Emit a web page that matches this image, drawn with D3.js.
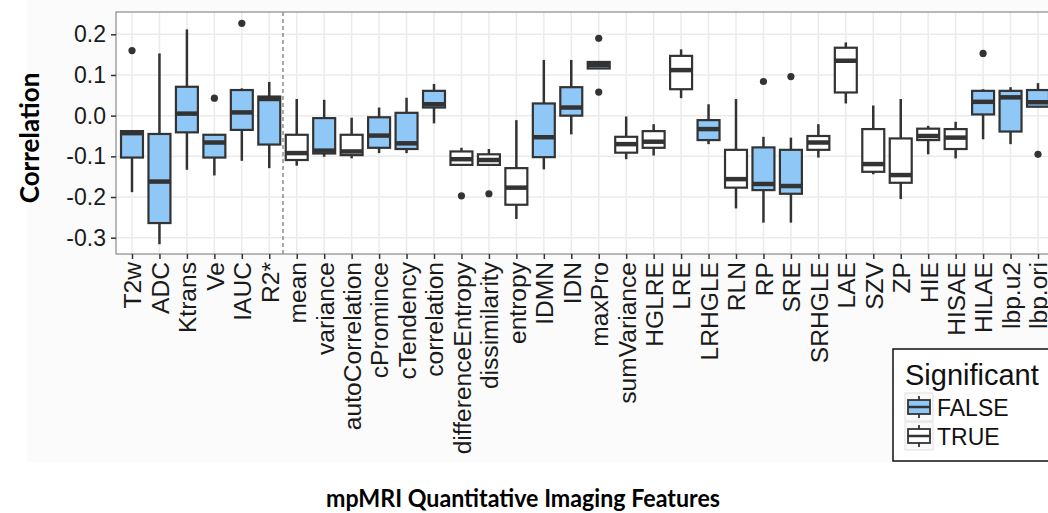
<!DOCTYPE html>
<html>
<head>
<meta charset="utf-8">
<script src="https://cdn.jsdelivr.net/npm/d3@7"></script>
<style>
  body { margin: 0; background: #fff; }
  svg { display: block; }
</style>
</head>
<body>
<div id="chart"></div>
<script>
// Feature names along the x axis
const categories = ['T2w', 'ADC', 'Ktrans', 'Ve', 'IAUC', 'R2*', 'mean', 'variance', 'autoCorrelation',
    'cPromince', 'cTendency', 'correlation', 'differenceEntropy', 'dissimilarity', 'entropy', 'IDMN',
    'IDN', 'maxPro', 'sumVariance', 'HGLRE', 'LRE', 'LRHGLE', 'RLN', 'RP', 'SRE', 'SRHGLE', 'LAE',
    'SZV', 'ZP', 'HIE', 'HISAE', 'HILAE', 'lbp.u2', 'lbp.ori'];

// Box statistics per feature (same order as categories)
const whiskerLow = [-0.188, -0.316, -0.133, -0.147, -0.111, -0.129, -0.123, -0.101, -0.105, -0.092,
    -0.092, -0.019, -0.121, -0.121, -0.254, -0.132, -0.046, 0.116, -0.107, -0.098, 0.043, -0.070,
    -0.228, -0.263, -0.263, -0.103, 0.030, -0.144, -0.205, -0.095, -0.105, -0.058, -0.070, 0.022];
const q1 = [-0.103, -0.264, -0.041, -0.103, -0.035, -0.071, -0.109, -0.093, -0.097, -0.079,
    -0.082, 0.020, -0.121, -0.121, -0.219, -0.102, 0.000, 0.116, -0.091, -0.079, 0.065, -0.060,
    -0.177, -0.183, -0.192, -0.084, 0.057, -0.138, -0.165, -0.060, -0.082, 0.003, -0.039, 0.022];
const median = [-0.043, -0.162, 0.005, -0.066, 0.008, 0.041, -0.092, -0.086, -0.088, -0.049,
    -0.068, 0.028, -0.107, -0.109, -0.177, -0.053, 0.020, 0.125, -0.070, -0.064, 0.112, -0.033,
    -0.156, -0.168, -0.173, -0.066, 0.135, -0.119, -0.146, -0.050, -0.054, 0.034, 0.045, 0.033];
const q3 = [-0.038, -0.045, 0.071, -0.047, 0.063, 0.047, -0.047, -0.006, -0.047, -0.004,
    0.007, 0.061, -0.088, -0.095, -0.129, 0.030, 0.070, 0.132, -0.052, -0.038, 0.147, -0.011,
    -0.084, -0.078, -0.084, -0.050, 0.167, -0.033, -0.056, -0.032, -0.033, 0.061, 0.061, 0.063];
const whiskerHigh = [-0.038, 0.153, 0.212, -0.047, 0.067, 0.083, 0.041, 0.039, -0.005, 0.020,
    0.044, 0.078, -0.079, -0.082, -0.011, 0.137, 0.137, 0.132, -0.002, -0.021, 0.163, 0.028,
    0.041, -0.052, -0.054, -0.021, 0.180, 0.025, 0.041, -0.025, -0.015, 0.065, 0.070, 0.080];
const significant = [false, false, false, false, false, false, true, false, true, false,
    false, false, true, true, true, false, false, false, true, true, true, false,
    true, false, false, true, true, true, true, true, true, false, false, false];

// Outlying points: [feature, value]
const outliers = [['T2w', 0.16], ['Ve', 0.043], ['IAUC', 0.227], ['differenceEntropy', -0.197],
    ['dissimilarity', -0.192], ['maxPro', 0.19], ['maxPro', 0.058], ['RP', 0.084], ['SRE', 0.096],
    ['HILAE', 0.153], ['lbp.ori', -0.095]];

const yTicks = [-0.3, -0.2, -0.1, 0.0, 0.1, 0.2];
const legendLabels = ['FALSE', 'TRUE'];

const W = 1048, H = 513;
const panel = {left: 116, top: 12, bottom: 254};
const fillFor = s => s ? '#ffffff' : '#8fc8f7';
const ink = '#333333';

const data = categories.map((c, i) => ({
    name: c, lo: whiskerLow[i], q1: q1[i], med: median[i], q3: q3[i], hi: whiskerHigh[i], sig: significant[i]
}));

const svg = d3.select('#chart')
    .append('svg')
    .attr('width', W)
    .attr('height', H);

// faint backdrop of the pasted figure
svg.append('rect')
    .attr('x', 27).attr('y', 0)
    .attr('width', W - 27).attr('height', 462)
    .attr('fill', '#fbfbfb');

// Scales
const x = d3.scalePoint()
    .domain(categories)
    .range([132, 1038]);
const step = x.step();
const boxW = step * 0.8;

const y = d3.scaleLinear()
    .domain([-0.3, 0.2])
    .range([237.7, 34.3]);

// Panel background
svg.append('rect')
    .attr('x', panel.left).attr('y', panel.top)
    .attr('width', W - panel.left + 10).attr('height', panel.bottom - panel.top)
    .attr('fill', '#fff');

// Grid
svg.append('g')
    .selectAll('line')
    .data(yTicks)
    .join('line')
    .attr('x1', panel.left).attr('x2', W + 10)
    .attr('y1', d => y(d)).attr('y2', d => y(d))
    .attr('stroke', '#ebebeb').attr('stroke-width', 1.5);

svg.append('g')
    .selectAll('line')
    .data(categories)
    .join('line')
    .attr('x1', d => x(d)).attr('x2', d => x(d))
    .attr('y1', panel.top).attr('y2', panel.bottom)
    .attr('stroke', '#ebebeb').attr('stroke-width', 1.5);

// Dashed separator between clinical and texture features
const sepX = (x('R2*') + x('mean')) / 2;
svg.append('line')
    .attr('x1', sepX).attr('x2', sepX)
    .attr('y1', panel.top).attr('y2', panel.bottom)
    .attr('stroke', '#555').attr('stroke-width', 1)
    .attr('stroke-dasharray', '4,3');

// Boxes
const box = svg.append('g')
    .selectAll('g')
    .data(data)
    .join('g')
    .attr('transform', d => `translate(${x(d.name)},0)`);

box.append('line')
    .attr('y1', d => y(d.lo)).attr('y2', d => y(d.hi))
    .attr('stroke', ink).attr('stroke-width', 2.5);

box.append('rect')
    .attr('x', -boxW / 2)
    .attr('y', d => y(d.q3))
    .attr('width', boxW)
    .attr('height', d => y(d.q1) - y(d.q3))
    .attr('fill', d => fillFor(d.sig))
    .attr('stroke', ink).attr('stroke-width', 2.2);

box.append('line')
    .attr('x1', -boxW / 2).attr('x2', boxW / 2)
    .attr('y1', d => y(d.med)).attr('y2', d => y(d.med))
    .attr('stroke', ink).attr('stroke-width', 4.5);

// Outliers
svg.append('g')
    .selectAll('circle')
    .data(outliers)
    .join('circle')
    .attr('cx', d => x(d[0]))
    .attr('cy', d => y(d[1]))
    .attr('r', 3.6)
    .attr('fill', ink);

// Panel border
svg.append('rect')
    .attr('x', panel.left).attr('y', panel.top)
    .attr('width', W - panel.left + 10).attr('height', panel.bottom - panel.top)
    .attr('fill', 'none')
    .attr('stroke', '#8a8a8a').attr('stroke-width', 1.2);

// Y axis (plain hyphen for negatives, like the original)
const fmt = d3.format('.1f');
const yAxis = svg.append('g')
    .attr('transform', `translate(${panel.left},0)`)
    .call(d3.axisLeft(y).tickValues(yTicks).tickFormat(d => fmt(d).replace('\u2212', '-')).tickSize(5).tickPadding(5));
yAxis.select('.domain').remove();
yAxis.selectAll('line').attr('stroke', ink).attr('stroke-width', 1.5);
yAxis.selectAll('text')
    .attr('fill', '#1a1a1a')
    .style('font-family', '"Liberation Sans", Arial, sans-serif')
    .style('font-size', '23px');

// X axis
const xAxis = svg.append('g')
    .attr('transform', `translate(0,${panel.bottom})`)
    .call(d3.axisBottom(x).tickSize(5).tickPadding(4));
xAxis.select('.domain').remove();
xAxis.selectAll('line').attr('stroke', ink).attr('stroke-width', 1.5);
xAxis.selectAll('text')
    .attr('fill', '#1a1a1a')
    .attr('transform', 'translate(0,8) rotate(-90)')
    .attr('x', 0).attr('y', 0).attr('dy', '0.36em')
    .style('text-anchor', 'end')
    .style('font-family', '"Liberation Sans", Arial, sans-serif')
    .style('font-size', '24.6px');

// Axis titles
svg.append('text')
    .attr('transform', 'translate(39,138) rotate(-90)')
    .attr('text-anchor', 'middle')
    .style('font-family', 'Lato, "Open Sans", sans-serif')
    .style('font-weight', 'bold')
    .style('font-size', '26px')
    .text('Correlation');

// condensed bold title, squeezed to the width it has in the original
svg.append('text')
    .attr('x', 326).attr('y', 507)
    .attr('textLength', 394)
    .attr('lengthAdjust', 'spacingAndGlyphs')
    .style('font-family', 'Lato, "Open Sans", sans-serif')
    .style('font-weight', 'bold')
    .style('font-size', '24px')
    .text('mpMRI Quantitative Imaging Features');

// Legend
const legend = svg.append('g').attr('transform', 'translate(893,349)');
legend.append('rect')
    .attr('width', 200).attr('height', 112)
    .attr('fill', '#fff')
    .attr('stroke', '#111').attr('stroke-width', 1.5);
legend.append('text')
    .attr('x', 12).attr('y', 36)
    .style('font-family', '"Liberation Sans", Arial, sans-serif')
    .style('font-size', '29px')
    .attr('fill', '#111')
    .text('Significant');

const keys = legend.selectAll('g.key')
    .data(legendLabels)
    .join('g')
    .attr('class', 'key')
    .attr('transform', (d, i) => `translate(12,${44 + i * 29})`);
keys.append('rect')
    .attr('width', 28).attr('height', 28)
    .attr('fill', '#fafafa').attr('stroke', '#e0e0e0');
keys.append('line')
    .attr('x1', 14).attr('x2', 14).attr('y1', 3).attr('y2', 25)
    .attr('stroke', ink).attr('stroke-width', 1.8);
keys.append('rect')
    .attr('x', 3).attr('y', 7).attr('width', 22).attr('height', 14)
    .attr('fill', d => fillFor(d === 'TRUE'))
    .attr('stroke', ink).attr('stroke-width', 1.8);
keys.append('line')
    .attr('x1', 3).attr('x2', 25).attr('y1', 14).attr('y2', 14)
    .attr('stroke', ink).attr('stroke-width', 2.5);
keys.append('text')
    .attr('x', 32).attr('y', 23)
    .style('font-family', '"Liberation Sans", Arial, sans-serif')
    .style('font-size', '23px')
    .attr('fill', '#111')
    .text(d => d);
</script>
</body>
</html>
